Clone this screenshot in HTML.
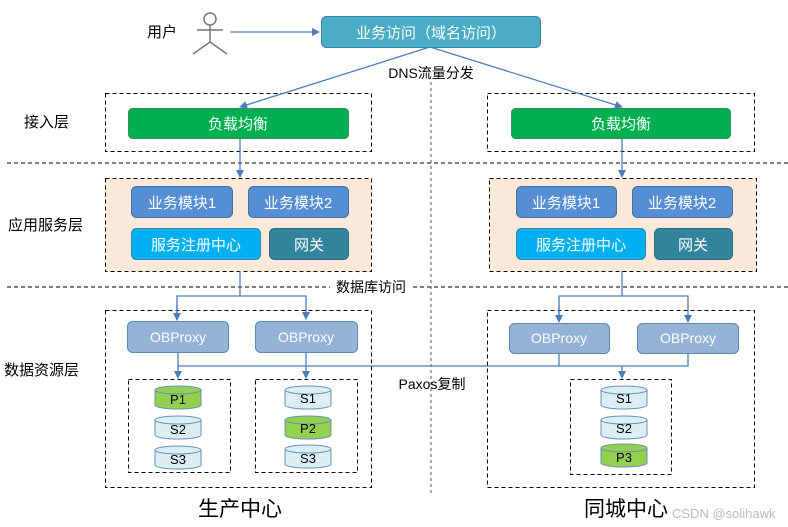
<!DOCTYPE html>
<html><head><meta charset="utf-8"><style>
html,body{margin:0;padding:0;background:#fff;}
svg{display:block;font-family:"Liberation Sans","Noto Sans CJK SC",sans-serif;}
</style></head><body>
<svg width="788" height="527" viewBox="0 0 788 527" xmlns="http://www.w3.org/2000/svg">
<defs>
<marker id="a" markerWidth="8" markerHeight="8" refX="7" refY="4" orient="auto" markerUnits="userSpaceOnUse">
<path d="M0,0 L8,4 L0,8 z" fill="#4a7ebb"/></marker>
</defs>
<!-- dashed separators -->
<g stroke="#000" stroke-dasharray="4,3" fill="none" stroke-width="1">
<line x1="7" y1="163" x2="788" y2="163"/>
<line x1="7" y1="287" x2="788" y2="287"/>
<line x1="431" y1="82" x2="431" y2="495" stroke="#555" stroke-dasharray="3,3"/>
<rect x="105.5" y="93.5" width="266" height="58"/>
<rect x="487.5" y="93.5" width="267" height="58"/>
<rect x="105.5" y="178.5" width="266" height="93" fill="#fde9d9"/>
<rect x="489.5" y="178.5" width="267" height="93" fill="#fde9d9"/>
<rect x="105.5" y="310.5" width="266" height="177"/>
<rect x="487.5" y="310.5" width="267" height="177"/>
<rect x="128.5" y="379.5" width="102" height="93"/>
<rect x="255.5" y="379.5" width="102" height="93"/>
<rect x="570.5" y="379.5" width="101" height="95"/>
</g>
<!-- labels left -->
<g font-size="15" fill="#000">
<text x="147" y="37">用户</text>
<text x="24" y="127">接入层</text>
<text x="8" y="230">应用服务层</text>
<text x="4" y="375">数据资源层</text>
</g>
<!-- stick figure -->
<g stroke="#777" stroke-width="1.5" fill="none">
<circle cx="210" cy="19" r="6"/>
<line x1="210" y1="25" x2="210" y2="42"/>
<line x1="197" y1="30" x2="223" y2="30"/>
<line x1="210" y1="42" x2="193" y2="54"/>
<line x1="210" y1="42" x2="227" y2="54"/>
</g>
<!-- connectors -->
<g stroke="#4a7ebb" stroke-width="1.3" fill="none">
<line x1="230" y1="32" x2="319" y2="32" marker-end="url(#a)"/>
<line x1="430" y1="47" x2="240" y2="107" marker-end="url(#a)"/>
<line x1="430" y1="47" x2="622" y2="107" marker-end="url(#a)"/>
<line x1="240" y1="138" x2="240" y2="177" marker-end="url(#a)"/>
<line x1="622" y1="138" x2="622" y2="177" marker-end="url(#a)"/>
<polyline points="240,271 240,296"/>
<polyline points="177,319 177,296 306,296 306,319" marker-end="url(#a)"/>
<line x1="177" y1="305" x2="177" y2="320" marker-end="url(#a)"/>
<polyline points="622,271 622,296"/>
<polyline points="559,322 559,296 688,296 688,322" marker-end="url(#a)"/>
<line x1="559" y1="305" x2="559" y2="322" marker-end="url(#a)"/>
<polyline points="178,352 178,366 688,366 688,353"/>
<line x1="306" y1="352" x2="306" y2="366"/>
<line x1="559" y1="353" x2="559" y2="366"/>
<line x1="178" y1="366" x2="178" y2="378" marker-end="url(#a)"/>
<line x1="306" y1="366" x2="306" y2="378" marker-end="url(#a)"/>
<line x1="622" y1="366" x2="622" y2="378" marker-end="url(#a)"/>
</g>
<!-- top box -->
<rect x="321.5" y="16.5" width="219" height="31" rx="5" fill="#4bacc6" stroke="#31859c"/>
<text x="431" y="38" font-size="15" fill="#fff" text-anchor="middle">业务访问（域名访问）</text>
<rect x="385" y="64" width="92" height="17" fill="#fff"/>
<text x="431" y="78" font-size="14" text-anchor="middle">DNS流量分发</text>
<!-- LB -->
<g font-size="15" fill="#fff" text-anchor="middle">
<rect x="128.5" y="108.5" width="220" height="30" rx="4" fill="#00b050" stroke="#3a8a5a"/>
<text x="238" y="129">负载均衡</text>
<rect x="511.5" y="108.5" width="219" height="30" rx="4" fill="#00b050" stroke="#3a8a5a"/>
<text x="621" y="129">负载均衡</text>
<!-- app left -->
<rect x="131.5" y="186.5" width="101" height="31" rx="5" fill="#558ed5" stroke="#41719c"/>
<text x="182" y="208">业务模块1</text>
<rect x="248.5" y="186.5" width="100" height="31" rx="5" fill="#558ed5" stroke="#41719c"/>
<text x="298" y="208">业务模块2</text>
<rect x="131.5" y="228.5" width="129" height="31" rx="5" fill="#00b0f0" stroke="#2e86b0"/>
<text x="196" y="250">服务注册中心</text>
<rect x="269.5" y="228.5" width="79" height="31" rx="5" fill="#31849b" stroke="#2a6f82"/>
<text x="309" y="250">网关</text>
<!-- app right -->
<rect x="516.5" y="186.5" width="100" height="31" rx="5" fill="#558ed5" stroke="#41719c"/>
<text x="566" y="208">业务模块1</text>
<rect x="632.5" y="186.5" width="100" height="31" rx="5" fill="#558ed5" stroke="#41719c"/>
<text x="682" y="208">业务模块2</text>
<rect x="516.5" y="228.5" width="129" height="31" rx="5" fill="#00b0f0" stroke="#2e86b0"/>
<text x="581" y="250">服务注册中心</text>
<rect x="654.5" y="228.5" width="78" height="31" rx="5" fill="#31849b" stroke="#2a6f82"/>
<text x="693" y="250">网关</text>
</g>
<rect x="330" y="279" width="82" height="17" fill="#fff"/>
<text x="371" y="292" font-size="14" text-anchor="middle">数据库访问</text>
<!-- OBProxy -->
<g font-size="14" fill="#fff" text-anchor="middle">
<rect x="127.5" y="321.5" width="101" height="31" rx="5" fill="#95b3d7" stroke="#5b8ab0"/>
<text x="178" y="342">OBProxy</text>
<rect x="255.5" y="321.5" width="102" height="31" rx="5" fill="#95b3d7" stroke="#5b8ab0"/>
<text x="306" y="342">OBProxy</text>
<rect x="509.5" y="323.5" width="100" height="30" rx="5" fill="#95b3d7" stroke="#5b8ab0"/>
<text x="559" y="343">OBProxy</text>
<rect x="637.5" y="323.5" width="101" height="30" rx="5" fill="#95b3d7" stroke="#5b8ab0"/>
<text x="688" y="343">OBProxy</text>
</g>
<text x="432" y="389" font-size="14" text-anchor="middle">Paxos复制</text>
<!-- cylinders -->
<g font-size="13" text-anchor="middle" stroke-width="1">
<g id="c"></g>
</g>
<g stroke="#6a8fb8" font-size="13" text-anchor="middle">
<!-- left -->
<path d="M155,390 v15 a23,4 0 0 0 46,0 v-15" fill="#92d050"/><ellipse cx="178" cy="390" rx="23" ry="4" fill="#92d050"/><text x="178" y="404" stroke="none">P1</text>
<path d="M155,420 v15 a23,4 0 0 0 46,0 v-15" fill="#dbeef4"/><ellipse cx="178" cy="420" rx="23" ry="4" fill="#dbeef4"/><text x="178" y="434" stroke="none">S2</text>
<path d="M155,450 v15 a23,4 0 0 0 46,0 v-15" fill="#dbeef4"/><ellipse cx="178" cy="450" rx="23" ry="4" fill="#dbeef4"/><text x="178" y="464" stroke="none">S3</text>
<!-- mid -->
<path d="M285,390 v15 a23,4 0 0 0 46,0 v-15" fill="#dbeef4"/><ellipse cx="308" cy="390" rx="23" ry="4" fill="#dbeef4"/><text x="308" y="403" stroke="none">S1</text>
<path d="M285,420 v15 a23,4 0 0 0 46,0 v-15" fill="#92d050"/><ellipse cx="308" cy="420" rx="23" ry="4" fill="#92d050"/><text x="308" y="433" stroke="none">P2</text>
<path d="M285,449 v15 a23,4 0 0 0 46,0 v-15" fill="#dbeef4"/><ellipse cx="308" cy="449" rx="23" ry="4" fill="#dbeef4"/><text x="308" y="463" stroke="none">S3</text>
<!-- right -->
<path d="M601,390 v15 a23,4 0 0 0 46,0 v-15" fill="#dbeef4"/><ellipse cx="624" cy="390" rx="23" ry="4" fill="#dbeef4"/><text x="624" y="403" stroke="none">S1</text>
<path d="M601,420 v15 a23,4 0 0 0 46,0 v-15" fill="#dbeef4"/><ellipse cx="624" cy="420" rx="23" ry="4" fill="#dbeef4"/><text x="624" y="433" stroke="none">S2</text>
<path d="M601,448 v15 a23,4 0 0 0 46,0 v-15" fill="#92d050"/><ellipse cx="624" cy="448" rx="23" ry="4" fill="#92d050"/><text x="624" y="462" stroke="none">P3</text>
</g>
<!-- bottom -->
<text x="240" y="516" font-size="21" text-anchor="middle">生产中心</text>
<text x="626" y="516" font-size="21" text-anchor="middle">同城中心</text>
<text x="672" y="518" font-size="13" fill="#bbb">CSDN @solihawk</text>
</svg>
</body></html>
